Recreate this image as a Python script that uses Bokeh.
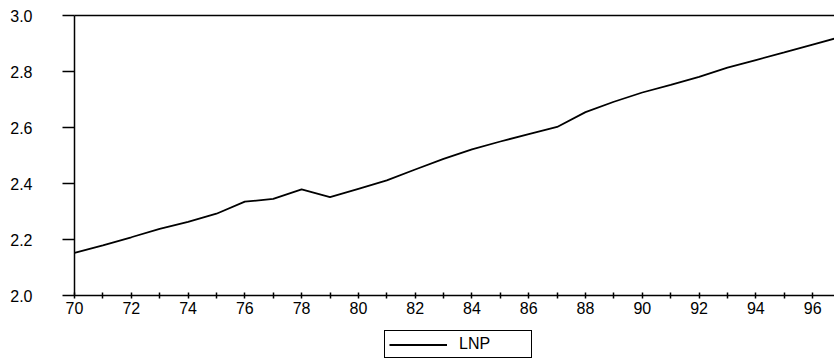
from bokeh.plotting import figure
from bokeh.layouts import column
from bokeh.models import Range1d, FixedTicker, Legend, LegendItem, LinearAxis, ColumnDataSource
from bokeh.embed import file_html
from bokeh.resources import INLINE

years = list(range(70, 98))
lnp = [2.152, 2.179, 2.208, 2.238, 2.263, 2.292, 2.335, 2.345, 2.379, 2.351,
       2.381, 2.411, 2.450, 2.488, 2.522, 2.550, 2.576, 2.602, 2.655, 2.692,
       2.725, 2.752, 2.781, 2.814, 2.841, 2.868, 2.896, 2.924]
x_major = list(range(70, 98, 2))
x_minor = list(range(71, 98, 2))
y_ticks = [2.0, 2.2, 2.4, 2.6, 2.8, 3.0]
series_name = "LNP"

FONT = "Liberation Sans"

p = figure(width=834, height=330, output_backend="svg", toolbar_location=None,
           x_range=Range1d(70, 96.77), y_range=Range1d(2.0, 3.0),
           min_border_left=74, min_border_right=0, min_border_top=15, min_border_bottom=35)
p.outline_line_color = None
p.grid.visible = False
p.background_fill_color = "white"
p.border_fill_color = "white"

src = ColumnDataSource(dict(x=years, y=lnp))
r = p.line("x", "y", source=src, line_color="black", line_width=1.8)

xa = p.xaxis[0]
xa.ticker = FixedTicker(ticks=x_major, minor_ticks=x_minor)
xa.major_tick_in = 3
xa.major_tick_out = 3
xa.minor_tick_in = 3
xa.minor_tick_out = 3
xa.axis_line_width = 1.5
xa.major_tick_line_width = 1.5
xa.minor_tick_line_width = 1.5
xa.major_label_text_font = FONT
xa.major_label_text_font_size = "16px"
xa.major_label_text_color = "black"
xa.major_label_standoff = 3
xa.major_label_overrides = {t: str(t) for t in x_major}

ya = p.yaxis[0]
ya.ticker = FixedTicker(ticks=y_ticks, minor_ticks=[])
ya.major_tick_in = 0
ya.major_tick_out = 12
ya.axis_line_width = 1.5
ya.major_tick_line_width = 1.5
ya.major_label_text_font = FONT
ya.major_label_text_font_size = "16px"
ya.major_label_text_color = "black"
ya.major_label_standoff = 30
ya.major_label_overrides = {t: f"{t:.1f}" for t in y_ticks}

top = LinearAxis(ticker=FixedTicker(ticks=[]), major_label_text_font_size="0px",
                 major_tick_in=0, major_tick_out=0, minor_tick_in=0, minor_tick_out=0,
                 axis_line_width=1.5)
p.add_layout(top, "above")

# legend strip below the chart (its own ranges keep the series out of view;
# the renderer only supplies the legend's line sample)
lg = figure(width=834, height=33, output_backend="svg", toolbar_location=None,
            x_range=Range1d(0, 1), y_range=Range1d(0, 1),
            x_axis_type=None, y_axis_type=None,
            min_border_left=0, min_border_right=0, min_border_top=0, min_border_bottom=0)
lg.outline_line_color = None
lg.grid.visible = False
lg.border_fill_color = "white"
lr = lg.line("x", "y", source=src, line_color="black", line_width=1.8)

legend = Legend(items=[LegendItem(label=series_name, renderers=[lr])],
                location=(310, 5), orientation="horizontal",
                border_line_color="black", border_line_width=1.5, border_line_alpha=1,
                background_fill_color="white", background_fill_alpha=1,
                label_text_font=FONT, label_text_font_size="16px", label_text_color="black",
                glyph_width=58, glyph_height=15, label_standoff=12,
                label_width=68, padding=4, margin=0, spacing=0)
lg.add_layout(legend, "center")

layout = column(p, lg, spacing=0)
open("out.html", "w").write(file_html(layout, INLINE))
